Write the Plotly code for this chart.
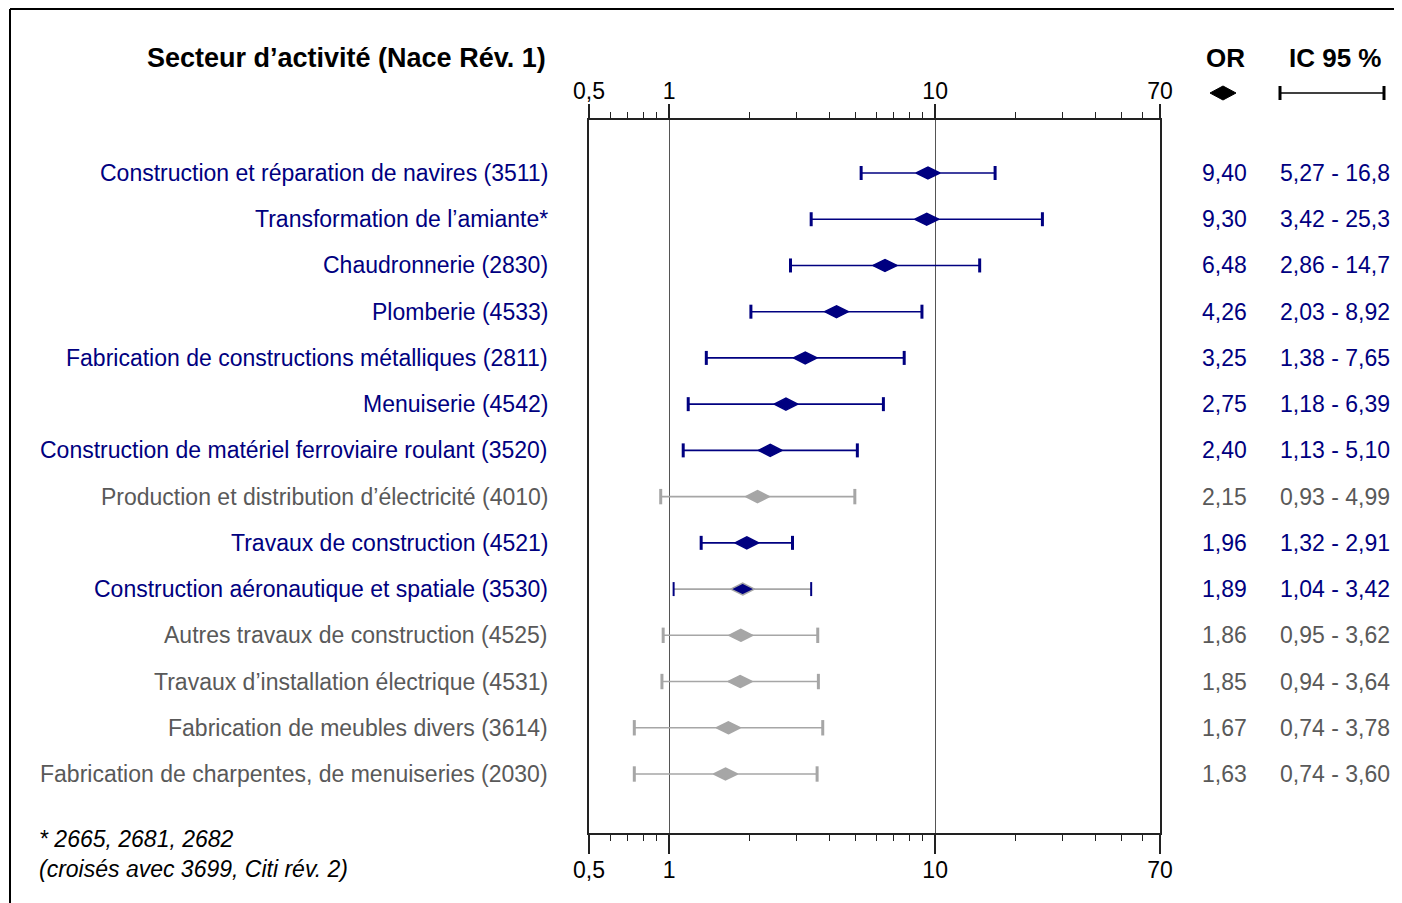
import plotly.graph_objects as go

# ---------------- data ----------------
labels = [
    "Construction et réparation de navires (3511)",
    "Transformation de l’amiante*",
    "Chaudronnerie (2830)",
    "Plomberie (4533)",
    "Fabrication de constructions métalliques (2811)",
    "Menuiserie (4542)",
    "Construction de matériel ferroviaire roulant (3520)",
    "Production et distribution d’électricité (4010)",
    "Travaux de construction (4521)",
    "Construction aéronautique et spatiale (3530)",
    "Autres travaux de construction (4525)",
    "Travaux d’installation électrique (4531)",
    "Fabrication de meubles divers (3614)",
    "Fabrication de charpentes, de menuiseries (2030)",
]
or_vals = [9.40, 9.30, 6.48, 4.26, 3.25, 2.75, 2.40, 2.15, 1.96, 1.89, 1.86, 1.85, 1.67, 1.63]
ci_low = [5.27, 3.42, 2.86, 2.03, 1.38, 1.18, 1.13, 0.93, 1.32, 1.04, 0.95, 0.94, 0.74, 0.74]
ci_high = [16.8, 25.3, 14.7, 8.92, 7.65, 6.39, 5.10, 4.99, 2.91, 3.42, 3.62, 3.64, 3.78, 3.60]

x_ticks = [0.5, 1, 10, 70]
x_tick_text = ["0,5", "1", "10", "70"]
minor_ticks = [0.6, 0.7, 0.8, 0.9, 2, 3, 4, 5, 6, 7, 8, 9, 20, 30, 40, 50, 60]

title_text = "Secteur d’activité (Nace Rév. 1)"
or_header = "OR"
ic_header = "IC 95 %"
footnote_lines = ["* 2665, 2681, 2682", "(croisés avec 3699, Citi rév. 2)"]
mixed_rows = {"Construction aéronautique et spatiale (3530)"}

# ---------------- layout helpers ----------------
OFF = 8  # page body margin
W, H = 1402 - OFF, 903 - OFF
L, R, T, B = 589, 1160, 120, 833   # target page pixels
FONT = "Liberation Sans, Arial, sans-serif"
NAVY = "#000080"
GREY_M = "#a6a6a6"
GREY_T = "#595959"
AX = "#222222"
FS = 23


def px(x):
    return (x - L) / (R - L)


def py(y):
    return (B - y) / (B - T)


def fmt(v):
    s = f"{v:.1f}" if v >= 10 else f"{v:.2f}"
    return s.replace(".", ",")


n = len(labels)
rows = list(range(n))
row_step = (774 - 173) / (n - 1)
y_top = -(173 - T) / row_step
y_bot = (n - 1) + (B - 774) / row_step


def style(i):
    if labels[i] in mixed_rows:
        return "mixed"
    return "sig" if ci_low[i] > 1 else "ns"


fig = go.Figure()

groups = {"sig": [], "ns": [], "mixed": []}
for i in rows:
    groups[style(i)].append(i)

line_col = {"sig": NAVY, "ns": GREY_M, "mixed": GREY_M}
cap_col = {"sig": NAVY, "ns": GREY_M, "mixed": NAVY}
cap_w = {"sig": 3, "ns": 3, "mixed": 2}
cap_size = {"sig": 10, "ns": 11, "mixed": 10}
dia_col = {"sig": NAVY, "ns": GREY_M, "mixed": NAVY}
dia_line = {"sig": NAVY, "ns": GREY_M, "mixed": GREY_M}

for g, idx in groups.items():
    if not idx:
        continue
    lx, ly = [], []
    for i in idx:
        lx += [ci_low[i], ci_high[i], None]
        ly += [i, i, None]
    fig.add_trace(go.Scatter(x=lx, y=ly, mode="lines",
                             line=dict(color=line_col[g], width=1.6),
                             hoverinfo="skip", showlegend=False))
    cx = [ci_low[i] for i in idx] + [ci_high[i] for i in idx]
    cy = idx + idx
    fig.add_trace(go.Scatter(x=cx, y=cy, mode="markers",
                             marker=dict(symbol="line-ns", size=cap_size[g],
                                         line=dict(width=cap_w[g], color=cap_col[g])),
                             hoverinfo="skip", showlegend=False))
    fig.add_trace(go.Scatter(x=[or_vals[i] for i in idx], y=idx, mode="markers",
                             marker=dict(symbol="diamond-wide", size=17, color=dia_col[g],
                                         line=dict(width=1.5, color=dia_line[g])),
                             text=[labels[i] for i in idx],
                             hovertemplate="%{text}<br>OR %{x}<extra></extra>",
                             showlegend=False))

# invisible trace to activate top axis
fig.add_trace(go.Scatter(x=[1], y=[0], xaxis="x2", mode="markers",
                         marker=dict(opacity=0), hoverinfo="skip", showlegend=False))

axis_common = dict(
    type="log", range=[-0.30103, 1.845098], tickmode="array",
    tickvals=x_ticks, ticktext=x_tick_text, ticks="outside", tickcolor=AX,
    tickwidth=1.5, showline=True, linecolor=AX, linewidth=2,
    showgrid=True, gridcolor="#555555", gridwidth=1, zeroline=False,
    tickfont=dict(family=FONT, size=FS, color="#000000"),
    minor=dict(tickmode="array", tickvals=minor_ticks, ticks="outside",
               ticklen=6, tickwidth=1.3, tickcolor=AX, showgrid=False),
)

fig.update_layout(
    width=W, height=H,
    margin=dict(l=L - OFF, r=1402 - R, t=T - OFF, b=903 - B, pad=0),
    paper_bgcolor="white", plot_bgcolor="white",
    font=dict(family=FONT, size=FS),
    xaxis=dict(**axis_common, side="bottom", ticklen=19, ticklabelstandoff=-4),
    xaxis2=dict(**axis_common, side="top", overlaying="x", anchor="y", ticklen=14,
                ticklabelstandoff=-4),
    yaxis=dict(range=[y_bot, y_top], showticklabels=False, ticks="", showgrid=False,
               zeroline=False, showline=True, linecolor=AX, linewidth=1.5, mirror=True),
)
fig.update_layout(xaxis2=dict(showgrid=False))

ann = []
for i in rows:
    sig = style(i) != "ns"
    col = NAVY if sig else GREY_T
    ann.append(dict(x=px(550), y=i, xref="paper", yref="y", text=labels[i],
                    xanchor="right", yanchor="middle", showarrow=False,
                    font=dict(family=FONT, size=FS, color=col)))
    ann.append(dict(x=px(1224), y=i, xref="paper", yref="y", text=fmt(or_vals[i]),
                    xanchor="center", yanchor="middle", showarrow=False,
                    font=dict(family=FONT, size=FS, color=col)))
    ann.append(dict(x=px(1278), y=i, xref="paper", yref="y",
                    text=f"{fmt(ci_low[i])} - {fmt(ci_high[i])}",
                    xanchor="left", yanchor="middle", showarrow=False,
                    font=dict(family=FONT, size=FS, color=col)))

ann.append(dict(x=px(548), y=py(58), xref="paper", yref="paper", text=f"<b>{title_text}</b>",
                xanchor="right", yanchor="middle", showarrow=False,
                font=dict(family=FONT, size=27, color="#000000")))
ann.append(dict(x=px(1225), y=py(58), xref="paper", yref="paper", text=f"<b>{or_header}</b>",
                xanchor="center", yanchor="middle", showarrow=False,
                font=dict(family=FONT, size=26, color="#000000")))
ann.append(dict(x=px(1335), y=py(58), xref="paper", yref="paper", text=f"<b>{ic_header}</b>",
                xanchor="center", yanchor="middle", showarrow=False,
                font=dict(family=FONT, size=26, color="#000000")))
ann.append(dict(x=px(37), y=py(854), xref="paper", yref="paper",
                text="<br>".join(f"<i>{t}</i>" for t in footnote_lines),
                xanchor="left", yanchor="middle", align="left", showarrow=False,
                font=dict(family=FONT, size=FS, color="#000000")))
fig.update_layout(annotations=ann)

shapes = []
# outer frame (top and left visible)
shapes.append(dict(type="line", xref="paper", yref="paper", x0=px(10), x1=px(1420),
                   y0=py(9), y1=py(9), line=dict(color="#000000", width=2)))
shapes.append(dict(type="line", xref="paper", yref="paper", x0=px(10), x1=px(10),
                   y0=py(9), y1=py(920), line=dict(color="#000000", width=2)))
# legend symbols
cx, cy = 1223, 93
shapes.append(dict(type="path", xref="paper", yref="paper",
                   path=f"M{px(cx-13)},{py(cy)} L{px(cx)},{py(cy-7)} L{px(cx+13)},{py(cy)} L{px(cx)},{py(cy+7)} Z",
                   fillcolor="#000000", line=dict(color="#000000", width=1)))
shapes.append(dict(type="line", xref="paper", yref="paper", x0=px(1280), x1=px(1384),
                   y0=py(93), y1=py(93), line=dict(color="#000000", width=1.6)))
for xx in (1280, 1384):
    shapes.append(dict(type="line", xref="paper", yref="paper", x0=px(xx), x1=px(xx),
                       y0=py(86), y1=py(100), line=dict(color="#000000", width=3)))
fig.update_layout(shapes=shapes)

fig.write_html("out.html")
